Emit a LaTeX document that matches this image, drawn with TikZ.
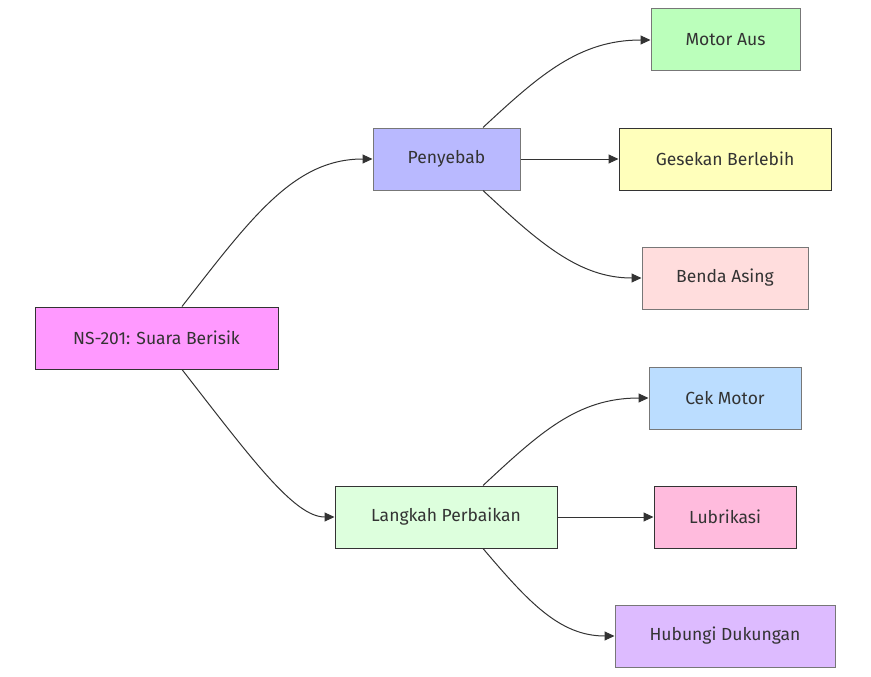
\documentclass[tikz,border=0pt]{standalone}
\usepackage{fontspec}
\setmainfont{Fira Sans}
\usetikzlibrary{arrows.meta}
\definecolor{txt}{HTML}{333333}
\definecolor{edge}{HTML}{333333}
\definecolor{bdark}{HTML}{333333}
\definecolor{bgray}{HTML}{777777}
\begin{document}
\begin{tikzpicture}[x=1pt,y=-1pt,
  box/.style={draw=bgray,line width=1pt,minimum height=62pt,inner sep=0pt,text=txt,font=\fontsize{17.5}{20}\selectfont},
  link/.style={draw=edge,line width=1pt,-{Triangle[length=10pt,width=9pt]}}]
\useasboundingbox (0,0) rectangle (871,677);
\node[box,draw=bdark,fill={rgb,255:red,255;green,153;blue,255},minimum width=243pt] (ns) at (156.5,338) {NS-201: Suara Berisik};
\node[box,fill={rgb,255:red,185;green,185;blue,255},minimum width=147pt] (pen) at (446.5,159) {Penyebab};
\node[box,draw=bdark,fill={rgb,255:red,221;green,255;blue,221},minimum width=222pt] (lang) at (446,517) {Langkah Perbaikan};
\node[box,fill={rgb,255:red,187;green,255;blue,187},minimum width=149pt] (motor) at (725.5,40) {Motor Aus};
\node[box,draw=bdark,fill={rgb,255:red,255;green,255;blue,187},minimum width=212pt] (gesek) at (725,159) {Gesekan Berlebih};
\node[box,fill={rgb,255:red,255;green,221;blue,221},minimum width=166pt] (benda) at (725,278) {Benda Asing};
\node[box,fill={rgb,255:red,187;green,221;blue,255},minimum width=152pt] (cek) at (725,398) {Cek Motor};
\node[box,draw=bdark,fill={rgb,255:red,255;green,187;blue,221},minimum width=142pt] (lub) at (725,517) {Lubrikasi};
\node[box,fill={rgb,255:red,221;green,187;blue,255},minimum width=220pt] (hub) at (725,636) {Hubungi Dukungan};

\draw[link] ([xshift=25.5pt]ns.north) .. controls +(70,-90) and +(-78,0) .. (pen.west);
\draw[link] ([xshift=25.5pt]ns.south) .. controls +(70,90) and +(-40,0) .. (lang.west);
\draw[link] ([xshift=36.5pt]pen.north) .. controls +(57,-53) and +(-71,0) .. (motor.west);
\draw[link] (pen.east) -- (gesek.west);
\draw[link] ([xshift=36.5pt]pen.south) .. controls +(57,53) and +(-62,0) .. (benda.west);
\draw[link] ([xshift=37pt]lang.north) .. controls +(57,-53) and +(-71,0) .. (cek.west);
\draw[link] (lang.east) -- (lub.west);
\draw[link] ([xshift=37pt]lang.south) .. controls +(45,53) and +(-55,0) .. (hub.west);
\end{tikzpicture}
\end{document}
